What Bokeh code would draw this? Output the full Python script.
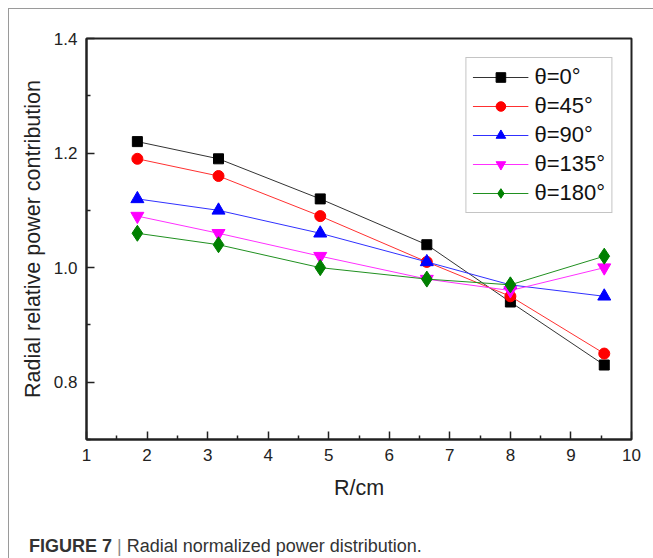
from bokeh.plotting import figure
from bokeh.models import Range1d, FixedTicker, Legend, LegendItem, Div, PrintfTickFormatter
from bokeh.layouts import column
from bokeh.embed import file_html
from bokeh.resources import INLINE

r_cm = [1.84, 3.18, 4.86, 6.62, 8.0, 9.55]
theta_labels = ["θ=0°", "θ=45°", "θ=90°", "θ=135°", "θ=180°"]
theta_0 = [1.22, 1.19, 1.12, 1.04, 0.94, 0.83]
theta_45 = [1.19, 1.16, 1.09, 1.01, 0.95, 0.85]
theta_90 = [1.12, 1.10, 1.06, 1.01, 0.97, 0.95]
theta_135 = [1.09, 1.06, 1.02, 0.98, 0.96, 1.00]
theta_180 = [1.06, 1.04, 1.00, 0.98, 0.97, 1.02]
y_ticks = [0.8, 1.0, 1.2, 1.4]
y_minor = [0.7, 0.9, 1.1, 1.3]
x_ticks = [1, 2, 3, 4, 5, 6, 7, 8, 9, 10]
x_minor = [1.5, 2.5, 3.5, 4.5, 5.5, 6.5, 7.5, 8.5, 9.5]

series = [theta_0, theta_45, theta_90, theta_135, theta_180]
colors = ["#000000", "#ff0000", "#0000ff", "#ff00ff", "#008000"]
line_colors = ["#333333", "#ff3030", "#3030ff", "#ff30ff", "#209020"]
markers = ["square", "circle", "triangle", "inverted_triangle", "diamond"]
sizes = [10, 11, 13, 13, 16]

FONT = "Liberation Sans"

p = figure(width=644, height=524, output_backend="svg", toolbar_location=None,
           x_range=Range1d(1, 10), y_range=Range1d(0.7, 1.4),
           min_border_left=77, min_border_right=22, min_border_top=29, min_border_bottom=94)
p.grid.visible = False
p.outline_line_color = "#222222"
p.outline_line_width = 2

for ax in (p.xaxis[0], p.yaxis[0]):
    ax.axis_line_color = "#222222"
    ax.axis_line_width = 2
    ax.major_tick_in = 8
    ax.major_tick_out = 0
    ax.minor_tick_in = 4
    ax.minor_tick_out = 0
    ax.major_tick_line_color = "#222222"
    ax.minor_tick_line_color = "#222222"
    ax.major_tick_line_width = 1.5
    ax.minor_tick_line_width = 1.5
    ax.major_label_text_font = FONT
    ax.major_label_text_font_size = "17px"
    ax.major_label_text_color = "#222222"
    ax.axis_label_text_font = FONT
    ax.axis_label_text_font_size = "21.5px"
    ax.axis_label_text_font_style = "normal"
    ax.axis_label_text_color = "#222222"
    ax.major_label_standoff = 9

p.xaxis[0].ticker = FixedTicker(ticks=x_ticks, minor_ticks=x_minor)
p.yaxis[0].ticker = FixedTicker(ticks=y_ticks, minor_ticks=y_minor)
p.yaxis[0].formatter = PrintfTickFormatter(format="%.1f")
p.xaxis[0].axis_label = "R/cm"
p.yaxis[0].axis_label = "Radial relative power contribution"
p.xaxis[0].axis_label_standoff = 12
p.yaxis[0].axis_label_standoff = 6

items = []
for ys, c, lc, m, s, lab in zip(series, colors, line_colors, markers, sizes, theta_labels):
    ln = p.line(r_cm, ys, line_color=lc, line_width=1)
    sc = p.scatter(r_cm, ys, marker=m, size=s, fill_color=c, line_color=c)
    items.append(LegendItem(label=lab, renderers=[ln, sc]))

legend = Legend(items=items, location="top_right", margin=19,
                border_line_color="#8a8a8a", border_line_width=1,
                padding=6, spacing=3, glyph_width=56, glyph_height=24,
                label_height=24, label_standoff=6,
                label_text_font=FONT, label_text_font_size="22px",
                label_text_color="#111111", background_fill_alpha=1)
p.add_layout(legend)

caption = Div(
    text='<b>FIGURE 7</b> <span style="color:#8a8a8a">|</span> Radial normalized power distribution.',
    width=644, height=25,
    styles={"font-family": FONT, "font-size": "18px", "line-height": "16px",
            "color": "#333333", "padding-left": "15px", "box-sizing": "border-box"})

layout = column(p, caption, spacing=0,
                styles={"margin-left": "8px", "margin-top": "8px",
                        "border-left": "1px solid #9a9a9a", "border-top": "1px solid #9a9a9a"})

open("out.html", "w").write(file_html(layout, INLINE))
